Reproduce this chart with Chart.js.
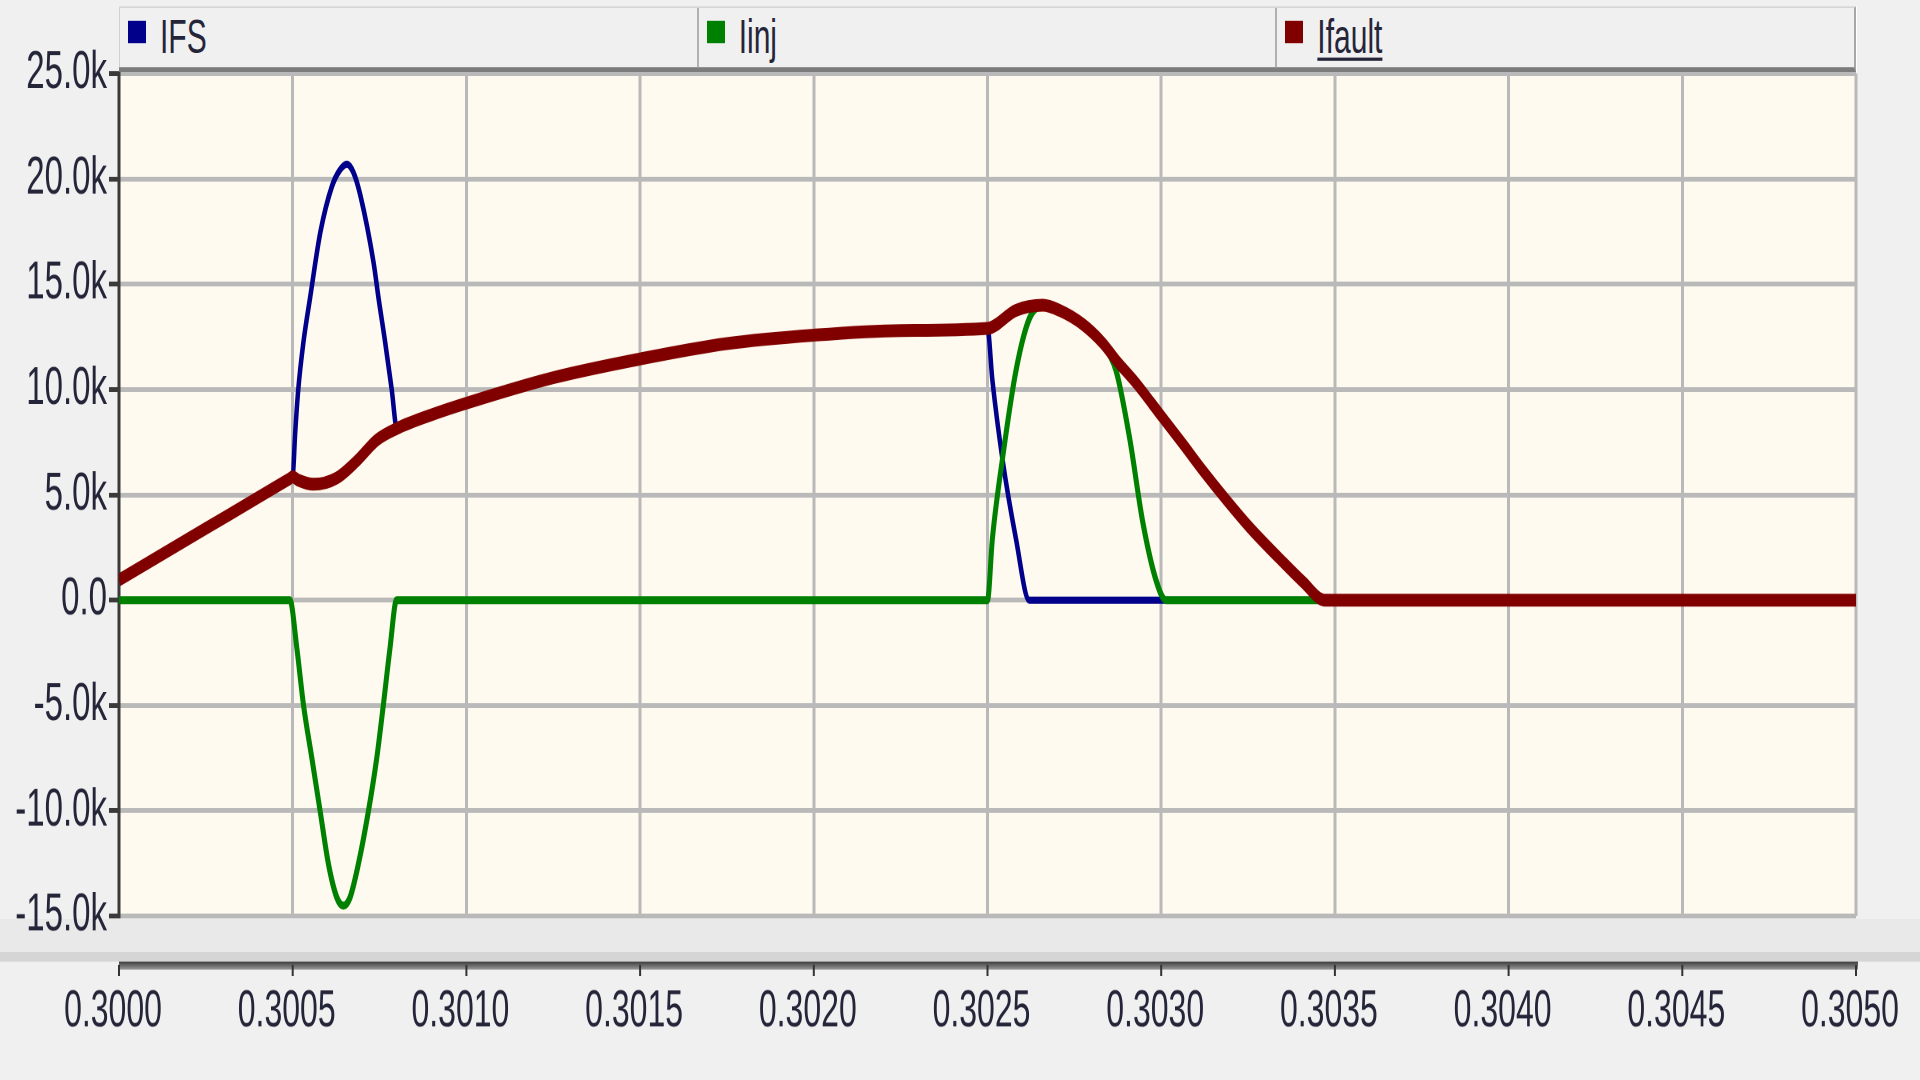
<!DOCTYPE html>
<html>
<head>
<meta charset="utf-8">
<script src="https://cdn.jsdelivr.net/npm/chart.js@4.4.1/dist/chart.umd.min.js"></script>
<style>
  html, body { margin: 0; padding: 0; background: #f0f0f0; overflow: hidden; }
  /* the source screenshot is stretched vertically, so is this */
  #wrap { position: absolute; left: 0; top: 0; width: 1920px; height: 675px;
          transform: scaleY(1.6); transform-origin: 0 0; }
  #plot { position: absolute; left: 0; top: 0; }
  #legend { position: absolute; left: 119px; top: 4px; width: 1735px; height: 37px;
            background: #f0f0f0; border-top: 1px solid #d6d6d6; border-right: 2px solid #a6a6a6;
            border-bottom: 3px solid #7c7c7c; display: flex;
            font-family: 'Liberation Sans', Arial, sans-serif; font-size: 30px; color: #25253a; }
  .cell { flex: 1; position: relative; border-left: 2px solid #b0b0b0; }
  .cell:first-child { border-left: 1px solid #d0d0d0; }
  .mark { position: absolute; left: 8px; top: 8px; width: 18px; height: 14px; }
  .lab { position: absolute; left: 40px; top: 1px; line-height: 34px; }
  .lab.sel { text-decoration: underline; text-decoration-thickness: 2px; text-underline-offset: 3px; }
</style>
</head>
<body>
<div id="wrap">
  <canvas id="plot" width="1920" height="675"></canvas>
  <div id="legend"></div>
</div>
<script>
// Series (time in s, current in A)
const tIFS = [0.3000, 0.30025, 0.30045, 0.30049, 0.3005, 0.300507, 0.300516, 0.300531, 0.30055,
  0.30058, 0.300613, 0.300635, 0.300656, 0.300675, 0.300695, 0.300733, 0.300747, 0.300766,
  0.300785, 0.3008, 0.3009, 0.3010, 0.30125, 0.3015, 0.30175, 0.3020, 0.30225, 0.3025,
  0.302514, 0.302543, 0.302582, 0.30262, 0.3050];
const iFS = [950, 3400, 5360, 5750, 5850, 7900, 10000, 12260, 14350,
  17500, 19650, 20400, 20700, 20300, 19200, 16000, 14350, 12260,
  10000, 8150, 8800, 9350, 10560, 11450, 12180, 12580, 12800, 12900,
  10450, 6700, 2900, 0, 0];

const tInj = [0.3000, 0.300492, 0.300512, 0.300531, 0.300555, 0.300579, 0.300603, 0.300627, 0.300646,
  0.300665, 0.300689, 0.300718, 0.300742, 0.300761, 0.30078, 0.300799, 0.3025, 0.302514, 0.302543,
  0.302582, 0.30262, 0.302659, 0.302707, 0.302774, 0.302832, 0.30287, 0.302909, 0.302947, 0.302986,
  0.303014, 0.3050];
const iInj = [0, 0, -2290, -4970, -7490, -10020, -12540, -14120, -14510,
  -14120, -12540, -10020, -7490, -4970, -2290, 0, 0, 2900, 6700,
  10900, 13350, 13950, 13760, 13100, 12100, 10900, 7700, 3700, 900,
  0, 0];

const tFault = [0.3000, 0.30025, 0.30045, 0.30049, 0.3005, 0.300515, 0.30056, 0.300627, 0.300684,
  0.300742, 0.3008, 0.3009, 0.3010, 0.30125, 0.3015, 0.30175, 0.3020, 0.30225, 0.3025,
  0.302582, 0.302659, 0.302707, 0.302774, 0.302832, 0.30287, 0.302928, 0.3030, 0.303063,
  0.30312, 0.303188, 0.303255, 0.303351, 0.303409, 0.30347, 0.3050];
const iFault = [950, 3400, 5360, 5750, 5850, 5700, 5500, 5800, 6600,
  7600, 8150, 8800, 9350, 10560, 11450, 12180, 12580, 12800, 12900,
  13760, 14000, 13760, 13100, 12200, 11400, 10300, 8750, 7400,
  6150, 4750, 3450, 1800, 850, 0, 0];

const seriesNames = ["IFS", "Iinj", "Ifault"];
const seriesColors = ["#00008b", "#008000", "#800000"];

const xMin = 0.3000, xMax = 0.3050, xStep = 0.0005;
const yMin = -15000, yMax = 25000, yStep = 5000;

const FONT = "'Liberation Sans', Arial, sans-serif";

function pts(ts, vs) {
  return ts.map((t, i) => ({ x: t, y: vs[i] }));
}

// legend strip
const legend = document.getElementById("legend");
seriesNames.forEach((name, i) => {
  const cell = document.createElement("div");
  cell.className = "cell";
  cell.innerHTML = `<span class="mark" style="background:${seriesColors[i]}"></span>` +
    `<span class="lab${i === 2 ? " sel" : ""}">${name}</span>`;
  legend.appendChild(cell);
});

// page and plot background, plus the separate x axis bar below the plot
const backPlugin = {
  id: "back",
  beforeDraw(chart) {
    const { ctx, chartArea: a } = chart;
    const sx = chart.scales.x;
    const axisY = a.bottom + 28.5;
    ctx.save();
    ctx.fillStyle = "#f0f0f0";
    ctx.fillRect(0, 0, chart.width, chart.height);
    ctx.fillStyle = "#fffaef";
    ctx.fillRect(a.left, a.top, a.right - a.left, a.bottom - a.top);

    ctx.fillStyle = "#e9e9e9";
    ctx.fillRect(0, a.bottom + 2, chart.width, axisY - a.bottom - 2);
    ctx.fillStyle = "#d5d5d5";
    ctx.fillRect(0, axisY - 6, chart.width, 6);
    const g = ctx.createLinearGradient(0, axisY, 0, axisY + 5);
    g.addColorStop(0, "#3c3c3c");
    g.addColorStop(1, "#9a9a9a");
    ctx.fillStyle = g;
    ctx.fillRect(a.left, axisY, a.right - a.left + 2, 5);
    ctx.strokeStyle = "#333";
    ctx.lineWidth = 2;
    sx.ticks.forEach((t) => {
      const x = sx.getPixelForValue(t.value);
      ctx.beginPath();
      ctx.moveTo(x, axisY + 2);
      ctx.lineTo(x, axisY + 9);
      ctx.stroke();
    });
    ctx.restore();
  },
};

const lineStyle = (label, data, color, width, order) => ({
  label, data, borderColor: color, backgroundColor: color, borderWidth: width,
  pointRadius: 0, fill: false, cubicInterpolationMode: "monotone", order,
});

const config = {
  type: "line",
  data: {
    datasets: [
      lineStyle(seriesNames[0], pts(tIFS, iFS), seriesColors[0], 4.5, 3),
      lineStyle(seriesNames[1], pts(tInj, iInj), seriesColors[1], 5, 2),
      lineStyle(seriesNames[2], pts(tFault, iFault), seriesColors[2], 8, 1),
    ],
  },
  options: {
    responsive: false,
    animation: false,
    devicePixelRatio: 2,
    layout: { padding: { top: 46, right: 64, left: 0, bottom: 0 } },
    plugins: { legend: { display: false }, tooltip: { enabled: false } },
    scales: {
      x: {
        type: "linear",
        min: xMin,
        max: xMax,
        afterFit: (s) => { s.height = 102.5; s.paddingLeft = 0; s.paddingRight = 0; },
        border: { display: false },
        grid: { color: "#b9b9b9", lineWidth: 3, drawTicks: false },
        ticks: {
          stepSize: xStep,
          autoSkip: false,
          maxRotation: 0,
          padding: 41,
          labelOffset: -6,
          color: "#25253a",
          font: { family: FONT, size: 32 },
          callback: (v) => Number(v).toFixed(4),
        },
      },
      y: {
        min: yMin,
        max: yMax,
        afterFit: (s) => { s.width = 119; s.paddingTop = 0; s.paddingBottom = 0; },
        border: { display: true, color: "#3a3a3a", width: 3 },
        grid: { color: "#b9b9b9", lineWidth: 3, tickColor: "#3a3a3a", tickLength: 10 },
        ticks: {
          stepSize: yStep,
          padding: 2,
          color: "#25253a",
          font: { family: FONT, size: 33 },
          callback: (v) => (v === 0 ? "0.0" : (v / 1000).toFixed(1) + "k"),
        },
      },
    },
  },
  plugins: [backPlugin],
};

const chart = new Chart(document.getElementById("plot"), config);
</script>
</body>
</html>
